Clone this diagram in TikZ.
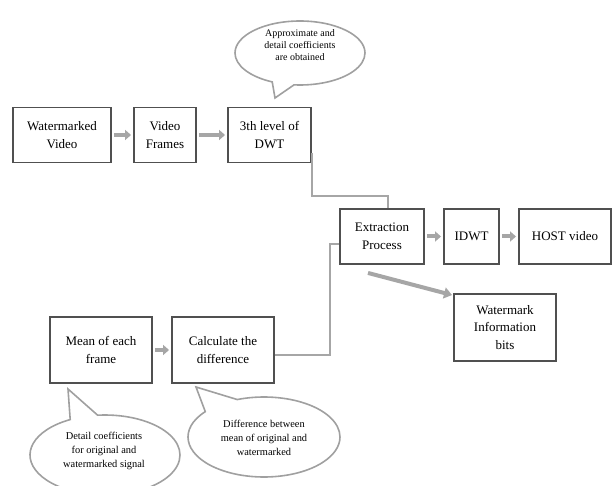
\documentclass[tikz,border=0pt]{standalone}
\usepackage{fontspec}
\setmainfont{Liberation Serif}
\usetikzlibrary{arrows.meta,shapes.callouts}
\definecolor{boxline}{HTML}{505050}
\definecolor{conncol}{HTML}{A6A6A6}
\definecolor{callcol}{HTML}{A0A0A0}
\begin{document}
\begin{tikzpicture}[x=1pt,y=-1pt,
 box/.style={draw=boxline,line width=1.9pt,fill=white,align=center,font=\fontsize{13}{17.5}\selectfont,inner sep=2pt},
 conn/.style={draw=conncol,line width=2.8pt},
 flow/.style={draw=conncol,line width=4pt,-{Triangle[width=10pt,length=6pt]},shorten <=2pt,shorten >=2pt},
 bubble/.style={ellipse callout,draw=callcol,line width=1.6pt,fill=white,inner sep=0pt},
 btext/.style={align=center,font=\fontsize{10}{11.7}\selectfont},
 btextb/.style={align=center,font=\fontsize{10.4}{14}\selectfont}]
\useasboundingbox (0,0) rectangle (614,486);

% boxes
\node[box,minimum width=98,minimum height=55] (wv) at (62,135) {Watermarked\\Video};
\node[box,minimum width=62,minimum height=55] (vf) at (165,135) {Video\\Frames};
\node[box,minimum width=83,minimum height=55] (dwt) at (269.5,135) {3th level of\\DWT};
\node[box,minimum width=84,minimum height=55] (ext) at (382,236.5) {Extraction\\Process};
\node[box,minimum width=55,minimum height=55] (idwt) at (471.5,236.5) {IDWT};
\node[box,minimum width=92,minimum height=55] (host) at (565,236.5) {HOST video};
\node[box,minimum width=102,minimum height=67] (wib) at (505,327.5) {Watermark\\Information\\bits};
\node[box,minimum width=102,minimum height=66] (mean) at (101,350) {Mean of each\\frame};
\node[box,minimum width=102,minimum height=66] (calc) at (223,350) {Calculate the\\difference};

% flow arrows
\draw[flow] (wv) -- (vf);
\draw[flow] (vf) -- (dwt);
\draw[flow] (ext) -- (idwt);
\draw[flow] (idwt) -- (host);
\draw[flow] (mean) -- (calc);
\draw[flow,-{Triangle[width=11pt,length=8pt]},shorten <=0pt,shorten >=0pt] ([shift={(-14,8)}]ext.south) -- ([shift={(-1,2)}]wib.north west);

% elbow connectors
\draw[conn] ([yshift=-18pt]dwt.east) -- ++(0,43) -| ([xshift=6pt]ext.north);
\draw[conn] ([yshift=-5pt]calc.east) -- ++(55,0) |- ([yshift=-7.5pt]ext.west);

% callouts
\node[bubble,minimum width=130,minimum height=64,callout absolute pointer={(275,98)},callout pointer arc=20] (cb1) at (300,53) {};
\node[btext] (t1) at (300,45) {Approximate and\\detail coefficients\\are obtained};

\node[bubble,minimum width=150,minimum height=80,callout absolute pointer={(68,389)},callout pointer arc=22] (cb2) at (105,455) {};
\node[btextb] (t2) at (104,451) {Detail coefficients\\for original and\\watermarked signal};

\node[bubble,minimum width=152,minimum height=80,callout absolute pointer={(196,387)},callout pointer arc=30] (cb3) at (264,437) {};
\node[btextb] (t3) at (264,438) {Difference between\\mean of original and\\watermarked};
\end{tikzpicture}
\end{document}
